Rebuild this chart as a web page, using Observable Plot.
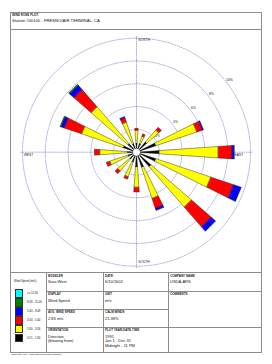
<!DOCTYPE html>
<html><head><meta charset="utf-8">
<script src="https://cdn.jsdelivr.net/npm/d3@7"></script>
<script src="https://cdn.jsdelivr.net/npm/@observablehq/plot@0.6"></script>
<style>
html,body{margin:0;padding:0;background:#fff}
body{width:272px;height:364px;position:relative;overflow:hidden;font-family:"Liberation Sans",Arial,sans-serif;color:#111}
.frame{position:absolute;left:10px;top:12px;width:250px;height:339px;border:1px solid #8c8c8c}
.hl{position:absolute;height:0;border-top:1px solid #8c8c8c}
.vl{position:absolute;width:0;border-left:1px solid #8c8c8c}
.h{position:absolute;font-size:3px;font-weight:bold;white-space:nowrap;line-height:3px;color:#222}
.v{position:absolute;font-size:4px;white-space:nowrap;line-height:4.6px}
.lg{position:absolute;font-size:2.8px;white-space:nowrap;line-height:3px}
#rose{position:absolute;left:11px;top:29px}
.sw{position:absolute;left:15px;width:8px;height:9px}
</style></head><body>
<div class="frame"></div>
<div class="h" style="left:12px;top:13.5px">WIND ROSE PLOT:</div>
<div class="v" style="left:12px;top:18.5px;font-size:4.2px">Station #00100 - FRESNO/AIR TERMINAL, CA</div>
<div class="hl" style="left:10px;top:29px;width:252px"></div>
<div id="rose"></div>
<div class="hl" style="left:10px;top:272px;width:252px"></div>
<div class="vl" style="left:46px;top:272px;height:80px"></div>
<div class="vl" style="left:103px;top:272px;height:80px"></div>
<div class="vl" style="left:168px;top:272px;height:80px"></div>
<div class="hl" style="left:46px;top:291px;width:122px"></div>
<div class="hl" style="left:46px;top:309px;width:122px"></div>
<div class="hl" style="left:46px;top:327px;width:216px"></div>
<div class="hl" style="left:168px;top:291px;width:94px"></div>
<div id="legend"></div>
<div id="cells"></div>
<div class="lg" style="left:11px;top:353px;font-size:2.4px">WRPLOT View - Lakes Environmental Software</div>
<script>
// ---- data ----
const dirs = ["N","NNE","NE","ENE","E","ESE","SE","SSE","S","SSW","SW","WSW","W","WNW","NW","NNW"];
const classLabels = ["0.51 - 1.80","1.80 - 3.34","3.34 - 5.40","5.40 - 8.49","8.49 - 11.06",">= 11.06"];
const classColors = ["#000000","#ffff00","#ff0000","#0000ff","#008000","#00ffff"];
const freq051 = [0.8,0.8,1.2,1.8,2.0,1.8,1.7,1.4,1.3,0.9,0.8,0.8,0.8,1.25,1.0,0.8];
const freq180 = [1.15,0.7,1.4,3.8,5.2,5.1,4.7,2.9,1.8,1.4,1.4,1.7,2.45,3.85,4.3,2.0];
const freq334 = [0.15,0.2,0.3,0.5,1.2,2.1,2.3,0.9,0.4,0.2,0.3,0.3,0.45,1.6,2.0,0.4];
const freq540 = [0,0,0,0.1,0.2,0.7,0.5,0.2,0,0,0,0,0,0.3,0.5,0.1];
const freq849 = [0,0,0,0,0,0,0,0,0,0,0,0,0,0.08,0.1,0];
const freq1106 = [0,0,0,0,0,0,0,0,0,0,0,0,0,0,0,0];
const ringValues = [2,4,6,8,10];
const ringLabels = ["2%","4%","6%","8%","10%"];
const compass = ["NORTH","EAST","SOUTH","WEST"];
const info = [
  ["MODELER","Sara West"],["DATE","6/10/2002"],["COMPANY NAME","USDA-ARS"],
  ["DISPLAY","Wind Speed"],["UNIT","m/s"],["COMMENTS",""],
  ["AVG. WIND SPEED","2.83 m/s"],["CALM WINDS","21.38%"],
  ["ORIENTATION","Direction\n(blowing from)"],["PLOT YEAR-DATE-TIME","1991\nJan 1 - Dec 31\nMidnight - 11 PM"]
];
const legendTitle = "Wind Speed (m/s)";

// ---- build geometry ----
const freqs = [freq051,freq180,freq334,freq540,freq849,freq1106];
const half = 4 * Math.PI/180;
const segs = [];
dirs.forEach((d,i)=>{
  const th = i*22.5*Math.PI/180;
  let r0 = 0;
  freqs.forEach((f,k)=>{
    const v = f[i]; if (!(v>0)) return;
    const r1 = r0 + v;
    const id = d+"-"+k;
    const pts = [[r0,th-half],[r1,th-half],[r1,th+half],[r0,th+half]];
    pts.forEach(([r,a])=>segs.push({id, x:r*Math.sin(a), y:r*Math.cos(a), color:classColors[k]}));
    r0 = r1;
  });
});
const rings = [];
ringValues.forEach(v=>{ for(let j=0;j<=180;j++){const a=j/180*2*Math.PI; rings.push({v,x:v*Math.sin(a),y:v*Math.cos(a)});} });
const cross = [{id:"v",x:0,y:10.15},{id:"v",x:0,y:-10.15},{id:"h",x:-10.15,y:0},{id:"h",x:10.15,y:0}];
const la = 52*Math.PI/180;
const rlab = ringValues.map((v,i)=>({t:ringLabels[i],x:(v+0.35)*Math.sin(la),y:(v+0.35)*Math.cos(la)}));
const clab = [
  {t:compass[0],x:0.15,y:9.86,a:"start"},
  {t:compass[1],x:8.6,y:-0.25,a:"start"},
  {t:compass[2],x:0.15,y:-9.6,a:"start"},
  {t:compass[3],x:-9.9,y:-0.25,a:"start"}
];
const dotted = {stroke:"#8f8fcc",strokeWidth:0.7,strokeDasharray:"1,1.3"};
const plot = Plot.plot({
  width:250,height:243,margin:0,
  x:{domain:[-10.965,10.965],axis:null},
  y:{domain:[-10.55,10.76],axis:null},
  color:{type:"identity"},
  style:{background:"transparent",fontFamily:"Liberation Sans, Arial, sans-serif"},
  marks:[
    Plot.line(rings,{x:"x",y:"y",z:"v",...dotted}),
    Plot.line(cross,{x:"x",y:"y",z:"id",...dotted}),
    Plot.text(rlab,{x:"x",y:"y",text:"t",fontSize:3.4,fill:"#222"}),
    Plot.text(clab,{x:"x",y:"y",text:"t",textAnchor:"start",fontSize:3.3,fill:"#222"}),
    Plot.line(segs,{x:"x",y:"y",z:"id",fill:"color",stroke:"#222",strokeWidth:0.45,curve:"linear-closed"}),
    Plot.dot([{x:0,y:0}],{x:"x",y:"y",r:4,fill:"white",stroke:"#222",strokeWidth:0.6})
  ]
});
document.getElementById("rose").appendChild(plot);

// legend
const lg = document.getElementById("legend");
let html = `<div class="lg" style="left:14px;top:280px">${legendTitle}</div>`;
const order = [5,4,3,2,1,0];
order.forEach((k,j)=>{
  const top = 289 + j*8.9;
  html += `<div class="sw" style="top:${top}px;background:${classColors[k]};border:0.3px solid #333;box-sizing:border-box;height:8.9px"></div>`;
  html += `<div class="lg" style="left:27px;top:${top+3}px">${classLabels[k]}</div>`;
});
lg.innerHTML = html;

// info cells
const pos = [[48,274.5],[105,274.5],[170,274.5],[48,293],[105,293],[170,293],[48,311],[105,311],[48,329],[105,329]];
let ch = "";
info.forEach(([h,v],i)=>{
  const [x,y] = pos[i];
  ch += `<div class="h" style="left:${x}px;top:${y}px">${h}</div>`;
  if (v) ch += `<div class="v" style="left:${x}px;top:${y+5.5}px">${v.replace(/\n/g,"<br>")}</div>`;
});
document.getElementById("cells").innerHTML = ch;
</script>
</body></html>
